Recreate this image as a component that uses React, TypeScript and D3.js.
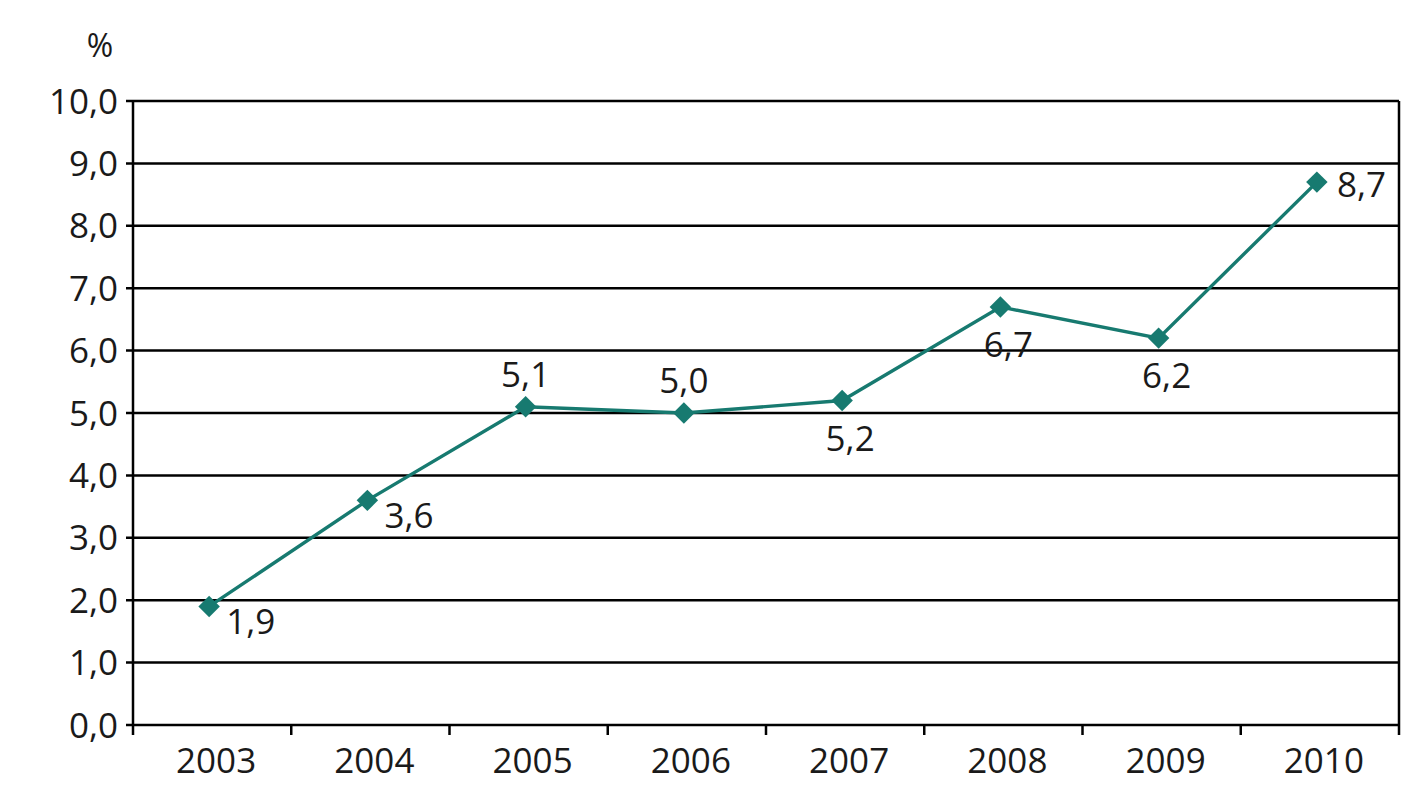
import * as d3 from 'd3';

// years and percentages
const years = ['2003', '2004', '2005', '2006', '2007', '2008', '2009', '2010'];
const values = [1.9, 3.6, 5.1, 5.0, 5.2, 6.7, 6.2, 8.7];
const yTicks = [0, 1, 2, 3, 4, 5, 6, 7, 8, 9, 10];
// where each value label sits relative to its point
const labelPlace = ['below-right', 'below-right', 'above', 'above', 'below', 'below', 'below', 'right'];

const W = 1426;
const H = 800;
const margin = { top: 101, right: 27, bottom: 75, left: 133 };
const teal = '#177a70';
const font = '"Open Sans", "DejaVu Sans", sans-serif';
const fs = 35;

const fmt = (v: number) => v.toFixed(1).replace('.', ',');

export default function App() {
  const x = d3.scaleBand<string>()
    .domain(years)
    .range([margin.left, W - margin.right]);
  const y = d3.scaleLinear()
    .domain([0, 10])
    .range([H - margin.bottom, margin.top]);

  const pts = years.map((yr, i) => ({ yr, v: values[i], cx: x(yr)! + x.bandwidth() / 2 - 3, cy: y(values[i]) }));
  const line = d3.line<{ cx: number; cy: number }>().x(d => d.cx).y(d => d.cy);
  // marker: square turned 45 degrees
  const marker = d3.symbol(d3.symbolSquare, 230)()!;

  const bottom = y(0);
  const right = W - margin.right;

  return (
    <svg width={W} height={H} style={{ position: 'absolute', left: 0, top: 0, background: '#fff' }}>
      <text x={100} y={57} textAnchor="middle" fontFamily={font} fontSize={32} fill="#1a1a1a">%</text>

      {/* gridlines + y labels */}
      {yTicks.map(t => (
        <g key={t}>
          <line x1={margin.left - 7} x2={right} y1={y(t)} y2={y(t)} stroke="#000" strokeWidth={2.5} />
          <text x={118} y={y(t)} dy="0.36em" textAnchor="end" fontFamily={font} fontSize={fs} fill="#1a1a1a">{fmt(t)}</text>
        </g>
      ))}

      {/* frame */}
      <line x1={margin.left} x2={margin.left} y1={margin.top} y2={bottom + 10} stroke="#000" strokeWidth={2.5} />
      <line x1={right} x2={right} y1={margin.top} y2={bottom + 10} stroke="#000" strokeWidth={2.5} />

      {/* x tick marks at band boundaries */}
      {years.slice(1).map(yr => (
        <line key={yr} x1={x(yr)!} x2={x(yr)!} y1={bottom} y2={bottom + 10} stroke="#000" strokeWidth={2.5} />
      ))}
      {years.map(yr => (
        <text key={yr} x={x(yr)! + x.bandwidth() / 2 + 4} y={773} textAnchor="middle" fontFamily={font} fontSize={fs} fill="#1a1a1a">{yr}</text>
      ))}

      <path d={line(pts)!} fill="none" stroke={teal} strokeWidth={3.4} />
      {pts.map(p => (
        <path key={p.yr} d={marker} transform={`translate(${p.cx},${p.cy}) rotate(45)`} fill={teal} />
      ))}

      {pts.map((p, i) => {
        const place = labelPlace[i];
        let lx = p.cx, ly = p.cy, anchor: 'start' | 'middle' = 'middle';
        if (place === 'below-right') { lx = p.cx + 17; ly = p.cy + 28; anchor = 'start'; }
        if (place === 'above') { ly = p.cy - 20; }
        if (place === 'below') { lx = p.cx + 8; ly = p.cy + 50; }
        if (place === 'right') { lx = p.cx + 20; ly = p.cy + 15; anchor = 'start'; }
        return (
          <text key={p.yr} x={lx} y={ly} textAnchor={anchor} fontFamily={font} fontSize={fs} fill="#1a1a1a">{fmt(p.v)}</text>
        );
      })}
    </svg>
  );
}
